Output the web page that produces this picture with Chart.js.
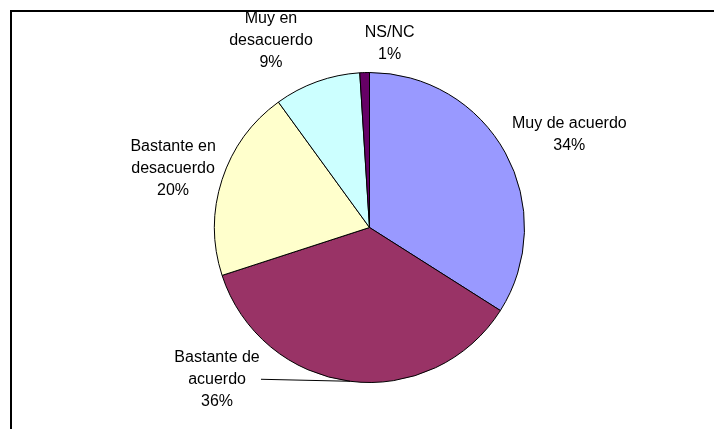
<!DOCTYPE html>
<html>
<head>
<meta charset="utf-8">
<script src="https://cdn.jsdelivr.net/npm/chart.js@4.4.0/dist/chart.umd.min.js"></script>
<style>
html,body{margin:0;padding:0;background:#fff;}
#wrap{position:relative;width:714px;height:429px;}
canvas{display:block;}
</style>
</head>
<body>
<div id="wrap"><canvas id="c" width="714" height="429"></canvas></div>
<script>
// Data
const categories = ["Muy de acuerdo", "Bastante de acuerdo", "Bastante en desacuerdo", "Muy en desacuerdo", "NS/NC"];
const labelLines = [["Muy de acuerdo"], ["Bastante de", "acuerdo"], ["Bastante en", "desacuerdo"], ["Muy en", "desacuerdo"], ["NS/NC"]];
const values = [34, 36, 20, 9, 1];
const colors = ["#9999FF", "#993366", "#FFFFCC", "#CCFFFF", "#660066"];

// Label layout (offset of label block centre from the slice's outer mid-point)
const labelOffsets = [[64, -18], [-133, -2], [-49, -11], [-46, -41], [25, -29]];
const leaderLines = [false, true, false, false, false];

const FONT = '16px "Liberation Sans", Arial, sans-serif';
const LINE_H = 22;

const framePlugin = {
  id: 'frame',
  beforeDraw(chart) {
    const ctx = chart.ctx;
    ctx.save();
    ctx.fillStyle = '#fff';
    ctx.fillRect(0, 0, chart.width, chart.height);
    ctx.strokeStyle = '#000';
    ctx.lineWidth = 2;
    ctx.beginPath();
    ctx.moveTo(11, chart.height);
    ctx.lineTo(11, 11);
    ctx.lineTo(chart.width, 11);
    ctx.stroke();
    ctx.restore();
  }
};

const labelPlugin = {
  id: 'outLabels',
  afterDatasetsDraw(chart) {
    const ctx = chart.ctx;
    const meta = chart.getDatasetMeta(0);
    const total = values.reduce((a, b) => a + b, 0);
    ctx.save();
    ctx.font = FONT;
    ctx.fillStyle = '#000';
    ctx.textAlign = 'center';
    ctx.textBaseline = 'middle';
    meta.data.forEach((arc, i) => {
      const p = arc.getProps(['x', 'y', 'startAngle', 'endAngle', 'outerRadius'], true);
      const mid = (p.startAngle + p.endAngle) / 2;
      const ex = p.x + Math.cos(mid) * p.outerRadius;
      const ey = p.y + Math.sin(mid) * p.outerRadius;
      const cx = ex + labelOffsets[i][0];
      const cy = ey + labelOffsets[i][1];
      const lines = labelLines[i].concat([Math.round(values[i] / total * 100) + '%']);
      const y0 = cy - (lines.length - 1) * LINE_H / 2;
      lines.forEach((t, k) => ctx.fillText(t, cx, y0 + k * LINE_H));
      if (leaderLines[i]) {
        const li = lines.length === 3 ? 1 : 0;
        const w = ctx.measureText(lines[li]).width;
        const ly = y0 + li * LINE_H;
        ctx.strokeStyle = '#000';
        ctx.lineWidth = 1;
        ctx.beginPath();
        ctx.moveTo(cx + w / 2 + 15, ly);
        ctx.lineTo(ex, ey);
        ctx.stroke();
      }
    });
    ctx.restore();
  }
};

new Chart(document.getElementById('c'), {
  type: 'pie',
  data: {
    labels: categories,
    datasets: [{
      data: values,
      backgroundColor: colors,
      borderColor: '#000',
      borderWidth: 1,
      hoverOffset: 0
    }]
  },
  options: {
    responsive: false,
    devicePixelRatio: 1,
    animation: false,
    layout: { padding: { left: 214, top: 72, right: 189, bottom: 46 } },
    plugins: {
      legend: { display: false },
      tooltip: { enabled: false },
      title: { display: false }
    },
    elements: { arc: { borderAlign: 'center' } }
  },
  plugins: [framePlugin, labelPlugin]
});
</script>
</body>
</html>
